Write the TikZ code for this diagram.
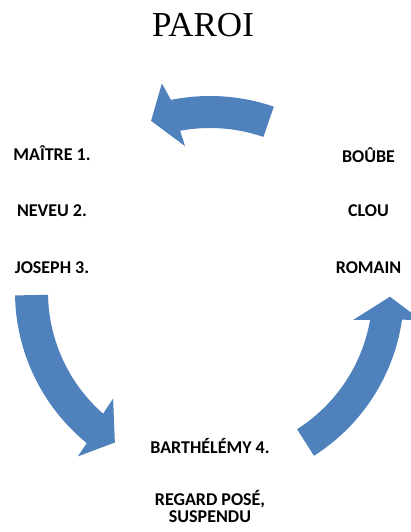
\documentclass[tikz,border=0pt]{standalone}
\usepackage{fontspec}
\setmainfont{Liberation Serif}
\newfontfamily\lblfont{Carlito}
\definecolor{arrowblue}{HTML}{4F81BD}
\tikzset{
  arrowfill/.style={fill=arrowblue},
  lbl/.style={font=\lblfont\bfseries\fontsize{18}{16}\selectfont, anchor=base, inner sep=0pt},
  ttl/.style={font=\fontsize{35}{35}\selectfont, anchor=base, inner sep=0pt}
}
\begin{document}
\begin{tikzpicture}[x=1pt,y=1pt]
\useasboundingbox (0,0) rectangle (411,532);
\clip (0,0) rectangle (411,532);
\node[ttl] (title) at (203,495.3) {PAROI};
\begin{scope}[shift={(210,240)}]
  % top arrow (right to left)
  \fill[arrowfill] (71:196) arc[start angle=71, end angle=101.5, radius=196]
     -- (103:214) -- (109:181) -- (99.7:148) -- (100.5:164)
     arc[start angle=100.5, end angle=71, radius=164] -- cycle;
  % left arrow (downwards)
  \fill[arrowfill] (181:195) arc[start angle=181, end angle=230.8, radius=195]
     -- (231.2:211) -- (237.7:178) -- (227.7:144) -- (228.7:162)
     arc[start angle=228.7, end angle=181, radius=162] -- cycle;
  % right arrow (upwards)
  \fill[arrowfill] (-57.6:194) arc[start angle=-57.6, end angle=-8.2, radius=194]
     -- (-7.6:213) -- (-1.5:180) -- (-11:146) -- (-9.9:162.5)
     arc[start angle=-9.9, end angle=-57.6, radius=162.5] -- cycle;
\end{scope}
\node[lbl] (maitre) at (52,371.3) {MAÎTRE 1.};
\node[lbl] (neveu) at (52,315.3) {NEVEU 2.};
\node[lbl] (joseph) at (52,258.7) {JOSEPH 3.};
\node[lbl] (boube) at (368.5,369.3) {BOÛBE};
\node[lbl] (clou) at (368.5,315.3) {CLOU};
\node[lbl] (romain) at (368.5,258.7) {ROMAIN};
\node[lbl] (barth) at (210,78.7) {BARTHÉLÉMY 4.};
\node[lbl] (regard) at (210,26.5) {REGARD POSÉ,};
\node[lbl] (susp) at (210,9.5) {SUSPENDU};
\end{tikzpicture}
\end{document}
